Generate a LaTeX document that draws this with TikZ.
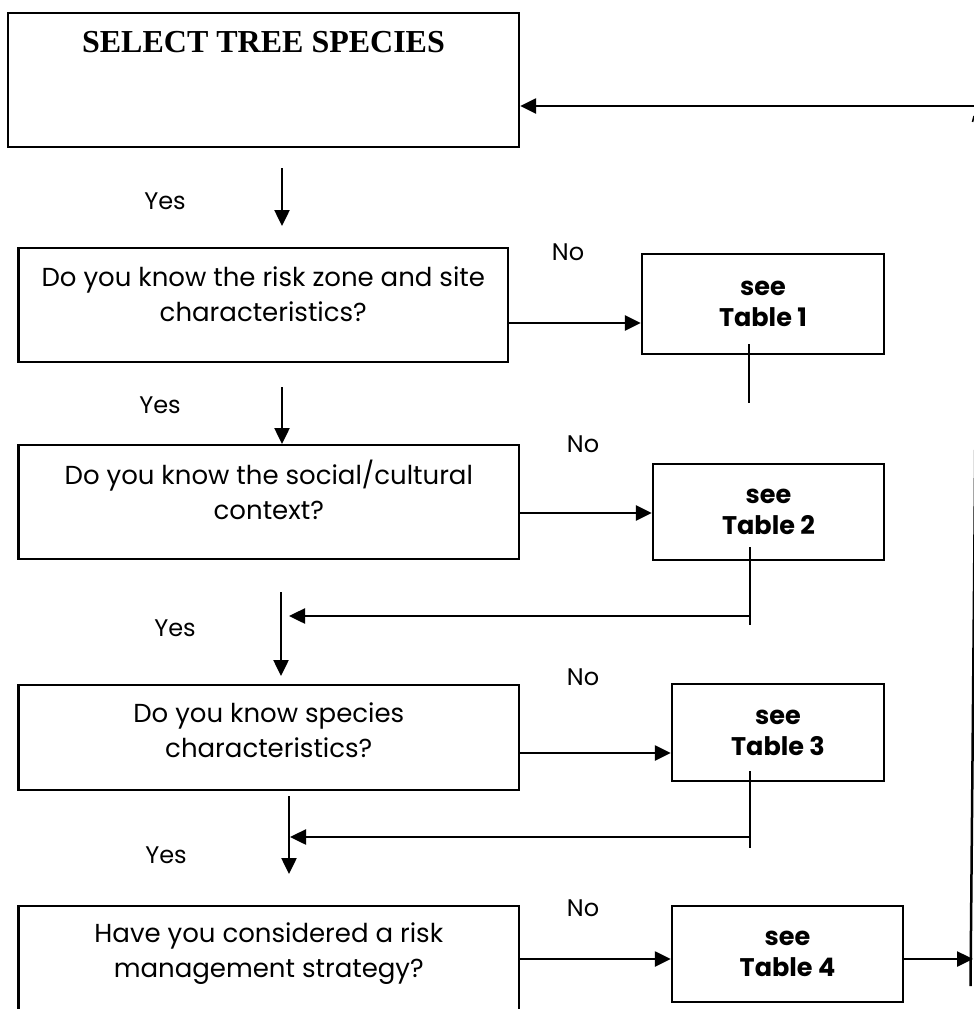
\documentclass[tikz,border=0pt]{standalone}
\usepackage{fontspec}
\setmainfont{Poppins}
\newfontfamily\titlefont{Liberation Serif}
\usetikzlibrary{arrows.meta}
\begin{document}
\begin{tikzpicture}[x=1pt,y=-1pt,
  box/.style={draw,line width=2.4pt,rectangle,inner sep=0pt},
  tab/.style={box,font=\fontsize{25.5}{31}\selectfont\bfseries,align=center},
  txt/.style={font=\fontsize{26}{35}\selectfont,align=center,inner sep=0pt},
  lab/.style={font=\fontsize{24}{28}\selectfont,inner sep=0pt},
  arr/.style={line width=2.5pt,-{Triangle[length=16pt,width=15pt]}},
  thinline/.style={line width=1.6pt},
  plain/.style={line width=2.5pt}]
\clip (0,0) rectangle (974,1009);
\fill[white] (0,0) rectangle (974,1009);
% left column boxes
\node[box,minimum width=511pt,minimum height=134pt] (b1) at (263.5,80) {};
\node[box,minimum width=489.4pt,minimum height=114pt] (b2) at (263.3,305) {};
\node[box,minimum width=500.4pt,minimum height=114pt] (b3) at (268.8,502) {};
\node[box,minimum width=500.4pt,minimum height=105pt] (b4) at (268.8,737.5) {};
\node[box,minimum width=500.4pt,minimum height=124pt] (b5) at (268.8,968) {};
% texts
\node[inner sep=0pt,font=\titlefont\bfseries\fontsize{32}{36}\selectfont] (b1t) at (263.5,42) {SELECT TREE SPECIES};
\node[txt] (b2t) at (263.3,294) {Do you know the risk zone and site\\characteristics?};
\node[txt] (b3t) at (268.8,490) {Do you know the social/cultural\\context?};
\node[txt] (b4t) at (268.8,730) {Do you know species\\characteristics?};
\node[txt] (b5t) at (268.8,953.5) {Have you considered a risk\\management strategy?};
% table boxes
\node[tab,minimum width=242pt,minimum height=100pt] (t1) at (763,304) {see\\Table 1};
\node[tab,minimum width=231pt,minimum height=96pt] (t2) at (768.5,512) {see\\Table 2};
\node[tab,minimum width=212pt,minimum height=97pt] (t3) at (778,732.5) {see\\Table 3};
\node[tab,minimum width=231pt,minimum height=96pt] (t4) at (787.5,954) {see\\Table 4};
% labels
\node[lab] (y1) at (165,201) {Yes};
\node[lab] (y2) at (160,405) {Yes};
\node[lab] (y3) at (175,628) {Yes};
\node[lab] (y4) at (166,855) {Yes};
\node[lab] (n1) at (568,252) {No};
\node[lab] (n2) at (583,444) {No};
\node[lab] (n3) at (583,677) {No};
\node[lab] (n4) at (583,908) {No};
% coordinates
\coordinate (a1s) at (282,168); \coordinate (a1e) at (282,226);
\coordinate (a2s) at (282,387); \coordinate (a2e) at (282,444);
\coordinate (a3s) at (281,592); \coordinate (a3e) at (281,676);
\coordinate (a4s) at (289,796); \coordinate (a4e) at (289,874);
\coordinate (h1) at (0,323); \coordinate (h2) at (0,513);
\coordinate (h3) at (0,753); \coordinate (h4) at (0,959);
\coordinate (topy) at (0,106); \coordinate (topr) at (980,106);
\coordinate (r1a) at (749,344); \coordinate (r1b) at (749,403);
\coordinate (r2a) at (750,547); \coordinate (r2b) at (750,625);
\coordinate (r2c) at (750,616); \coordinate (r2d) at (289,616);
\coordinate (r3a) at (750,771); \coordinate (r3b) at (750,848);
\coordinate (r3c) at (750,837); \coordinate (r3d) at (290,837);
\coordinate (rvt) at (975.5,420); \coordinate (rvb) at (970.5,986);
\coordinate (rarr) at (973,959);
\coordinate (mk1) at (972.5,122); \coordinate (mk2) at (974,116);
% yes arrows
\draw[arr] (a1s) -- (a1e);
\draw[arr] (a2s) -- (a2e);
\draw[arr] (a3s) -- (a3e);
\draw[arr] (a4s) -- (a4e);
% no arrows
\draw[arr] (b2.east |- h1) -- (t1.west |- h1);
\draw[arr] (b3.east |- h2) -- (t2.west |- h2);
\draw[arr] (b4.east |- h3) -- (t3.west |- h3);
\draw[arr] (b5.east |- h4) -- (t4.west |- h4);
% return lines
\draw[thinline] (r1a) -- (r1b);
\draw[thinline] (r2a) -- (r2b);
\draw[arr] (r2c) -- (r2d);
\draw[thinline] (r3a) -- (r3b);
\draw[arr] (r3c) -- (r3d);
% right side loop
\draw[arr] (t4.east |- h4) -- (rarr);
\draw[plain] (rvt) -- (rvb);
\draw[arr] (topr) -- (b1.east |- topy);
\draw[thinline] (mk1) -- (mk2);
\end{tikzpicture}
\end{document}
